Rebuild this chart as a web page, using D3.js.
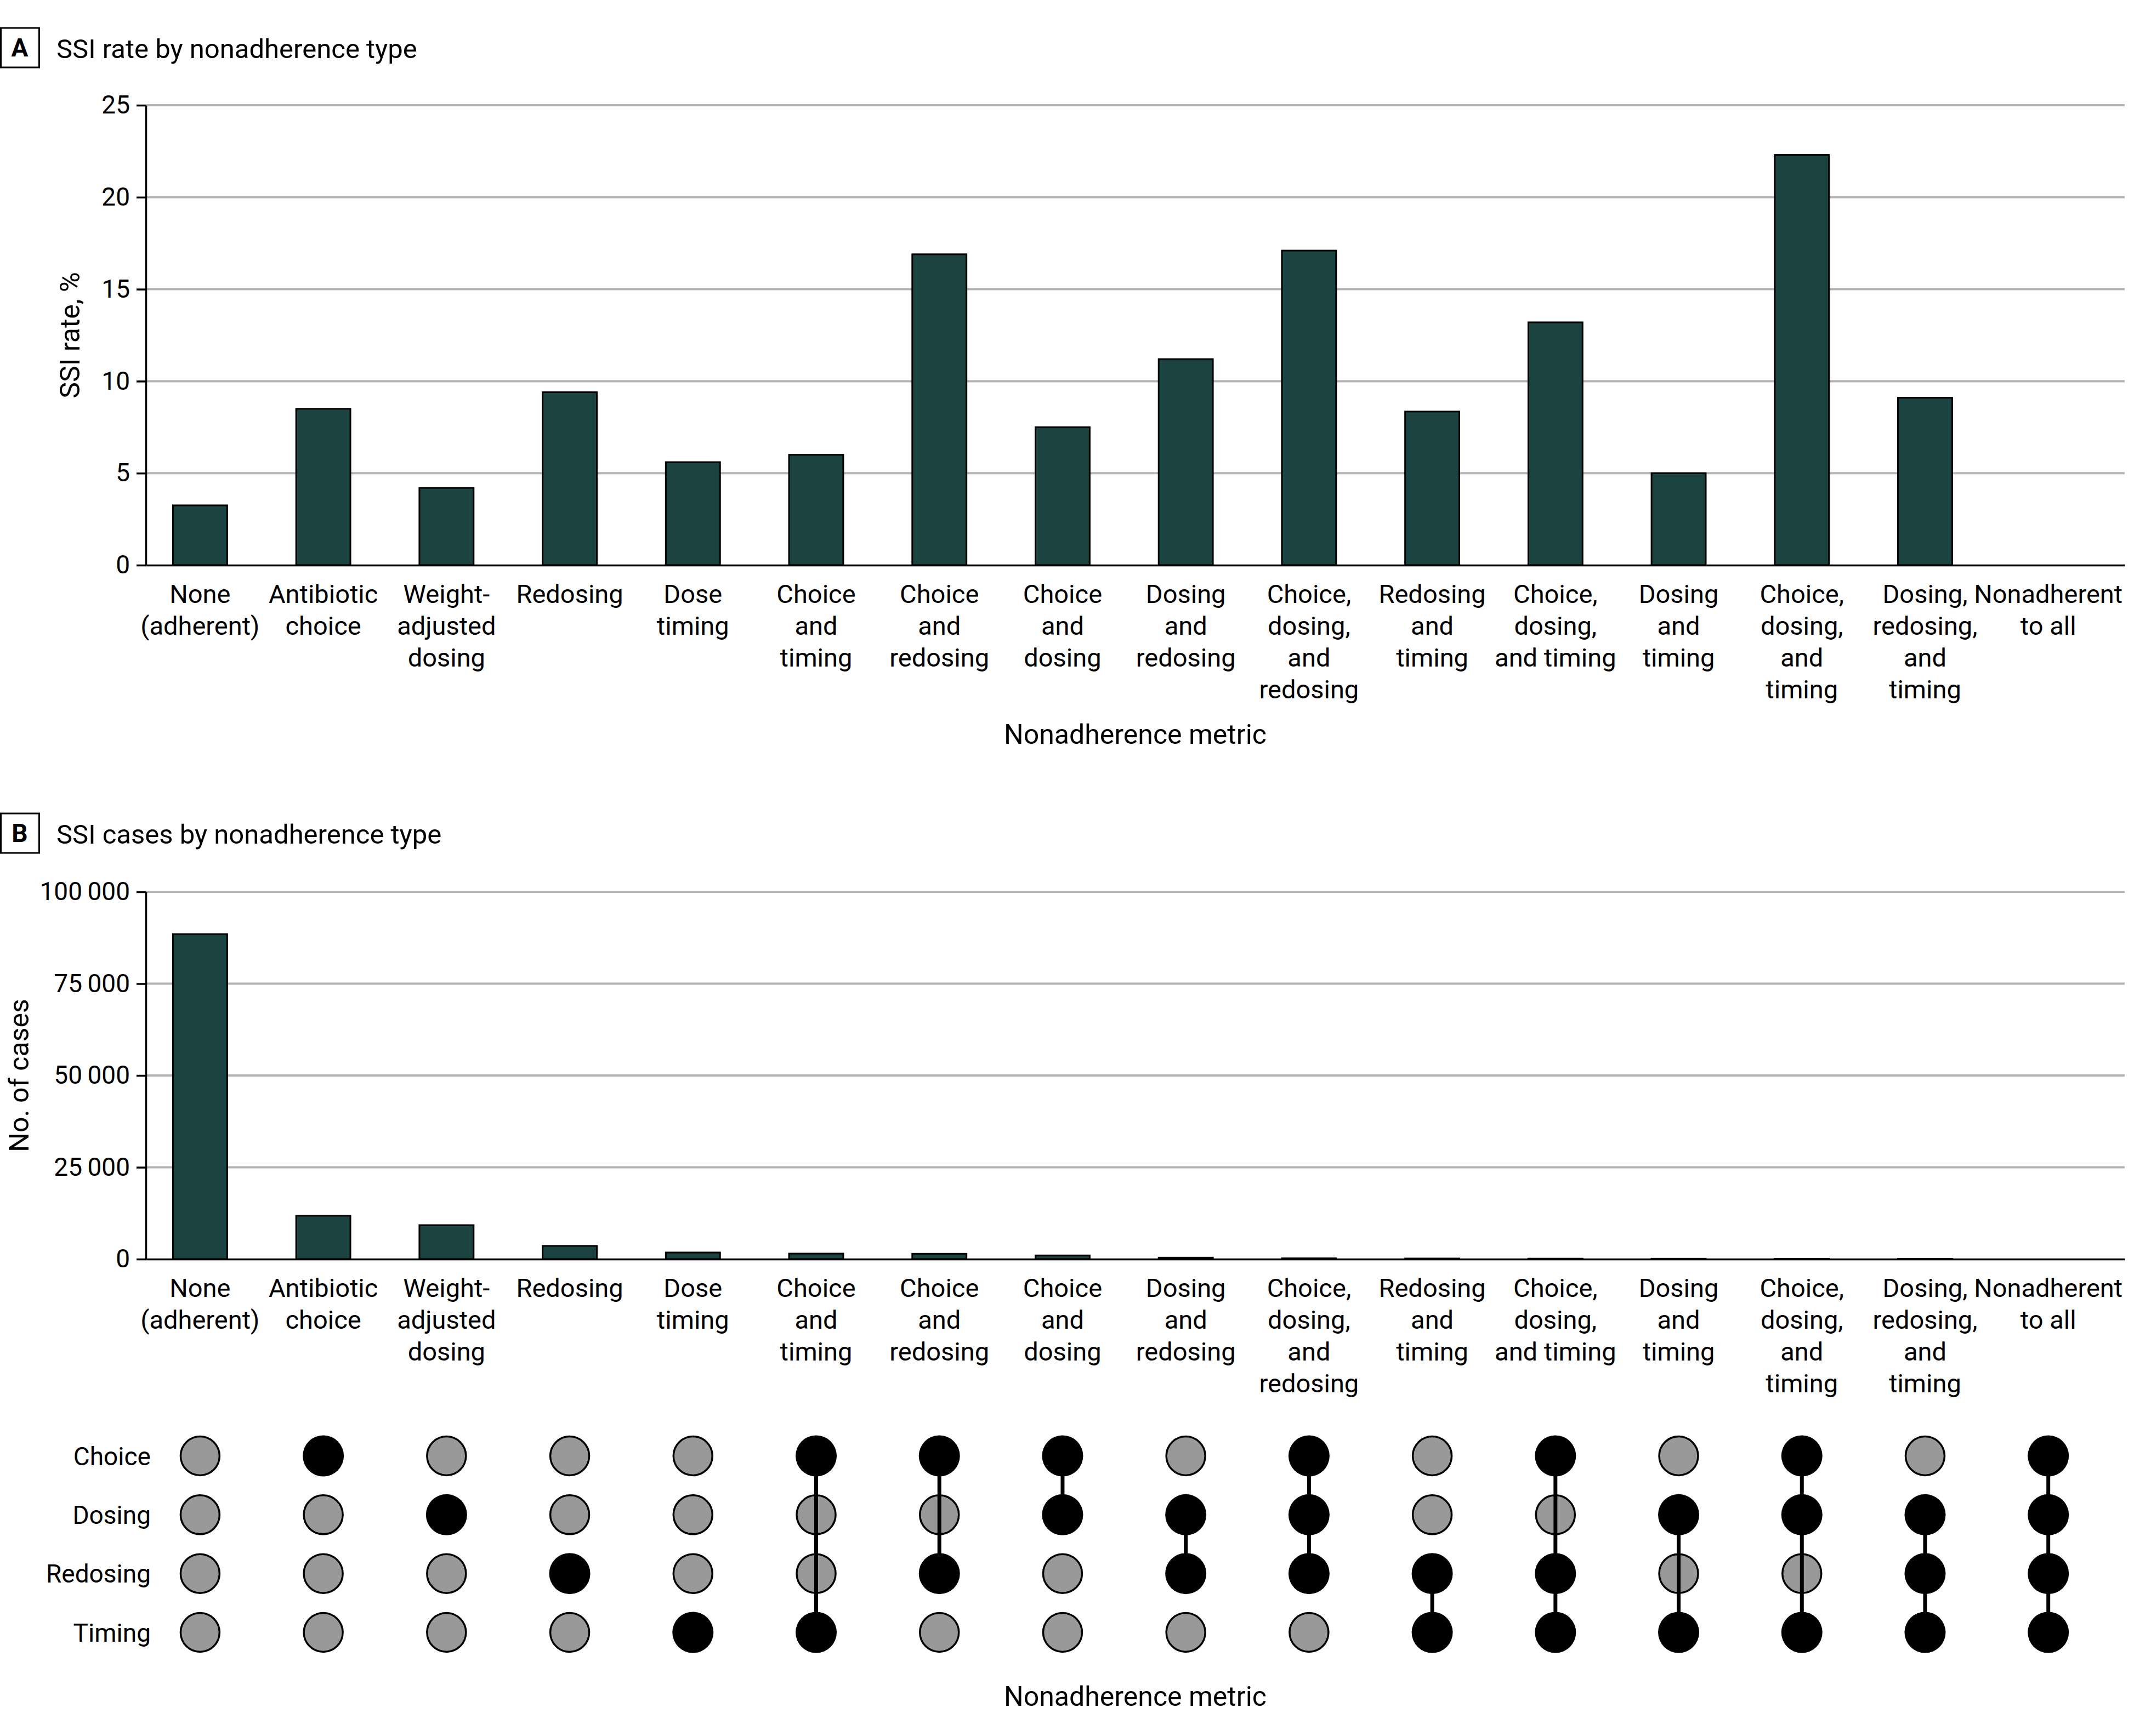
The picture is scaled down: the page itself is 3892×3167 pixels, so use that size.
<!DOCTYPE html>
<html>
<head>
<meta charset="utf-8">
<script src="https://cdn.jsdelivr.net/npm/d3@7"></script>
<style>
  body { margin: 0; background: #fff; }
  svg { display: block; font-family: Roboto, "Open Sans", sans-serif; }
</style>
</head>
<body>
<script>
// categories (label lines) in plotted order
var categories = [
  ["None", "(adherent)"],
  ["Antibiotic", "choice"],
  ["Weight-", "adjusted", "dosing"],
  ["Redosing"],
  ["Dose", "timing"],
  ["Choice", "and", "timing"],
  ["Choice", "and", "redosing"],
  ["Choice", "and", "dosing"],
  ["Dosing", "and", "redosing"],
  ["Choice,", "dosing,", "and", "redosing"],
  ["Redosing", "and", "timing"],
  ["Choice,", "dosing,", "and timing"],
  ["Dosing", "and", "timing"],
  ["Choice,", "dosing,", "and", "timing"],
  ["Dosing,", "redosing,", "and", "timing"],
  ["Nonadherent", "to all"]
];

// panel A: SSI rate, %
var ssiRate = [3.25, 8.5, 4.2, 9.4, 5.6, 6.0, 16.9, 7.5, 11.2, 17.1, 8.35, 13.2, 5.0, 22.3, 9.1, 0];
var rateTicks = [0, 5, 10, 15, 20, 25];

// panel B: no. of SSI cases
var ssiCases = [88500, 11800, 9250, 3600, 1800, 1500, 1450, 1000, 400, 220, 160, 120, 100, 80, 70, 0];
var caseTicks = [0, 25000, 50000, 75000, 100000];

// dot matrix: which metrics each category is nonadherent to
var metrics = ["Choice", "Dosing", "Redosing", "Timing"];
var choiceRow   = [0, 1, 0, 0, 0, 1, 1, 1, 0, 1, 0, 1, 0, 1, 0, 1];
var dosingRow   = [0, 0, 1, 0, 0, 0, 0, 1, 1, 1, 0, 0, 1, 1, 1, 1];
var redosingRow = [0, 0, 0, 1, 0, 0, 1, 0, 1, 1, 1, 1, 0, 0, 1, 1];
var timingRow   = [0, 0, 0, 0, 1, 1, 0, 0, 0, 0, 1, 1, 1, 1, 1, 1];
var matrixRows = [choiceRow, dosingRow, redosingRow, timingRow];

var W = 3892, H = 3167;
var left = 266, right = 3875;
var barFill = "#1b4341", gridColor = "#b3b3b3";

var svg = d3.select("body").append("svg")
  .attr("width", W)
  .attr("height", H);

var ids = categories.map(function(d, i) { return i; });

var x = d3.scaleBand()
  .domain(ids)
  .range([left, right])
  .paddingInner(0.56)
  .paddingOuter(0.31)
  .align(0.355);

var thinFmt = d3.formatLocale({decimal: ".", thousands: "\u2009", grouping: [3], currency: ["", ""]}).format(",");

function panelTitle(letter, title, top) {
  var g = svg.append("g").attr("transform", "translate(0," + top + ")");
  g.append("rect")
    .attr("x", 1.5).attr("y", 0)
    .attr("width", 70).attr("height", 72)
    .attr("fill", "none").attr("stroke", "#000").attr("stroke-width", 3);
  g.append("text")
    .attr("x", 36).attr("y", 52)
    .attr("text-anchor", "middle")
    .attr("font-size", 46).attr("font-weight", "bold")
    .text(letter);
  g.append("text")
    .attr("x", 103).attr("y", 55)
    .attr("font-size", 49)
    .text(title);
}

function barPanel(values, ticks, y0, y1, fmt, yTitle, yTitleX) {
  var y = d3.scaleLinear().domain([0, d3.max(ticks)]).range([y0, y1]);

  // gridlines
  svg.append("g").selectAll("line")
    .data(ticks.filter(function(t) { return t > 0; }))
    .enter().append("line")
    .attr("x1", left).attr("x2", right)
    .attr("y1", function(d) { return y(d); })
    .attr("y2", function(d) { return y(d); })
    .attr("stroke", gridColor).attr("stroke-width", 4);

  // bars
  svg.append("g").selectAll("rect")
    .data(values.map(function(v, i) { return {i: i, v: v}; }).filter(function(d) { return d.v > 0; }))
    .enter().append("rect")
    .attr("x", function(d) { return x(d.i); })
    .attr("width", x.bandwidth())
    .attr("y", function(d) { return y(d.v); })
    .attr("height", function(d) { return y(0) - y(d.v); })
    .attr("fill", barFill)
    .attr("stroke", "#000")
    .attr("stroke-width", 3);

  // y axis
  var ya = svg.append("g")
    .attr("transform", "translate(" + left + ",0)")
    .call(d3.axisLeft(y).tickValues(ticks).tickFormat(fmt).tickSize(17).tickSizeOuter(0).tickPadding(12));
  ya.select(".domain").attr("stroke-width", 3.5);
  ya.selectAll(".tick line").attr("stroke-width", 3.5);
  ya.selectAll(".tick text").attr("font-size", 46).attr("font-family", "Roboto").attr("fill", "#000");

  // x axis with wrapped labels
  var xa = svg.append("g")
    .attr("transform", "translate(0," + y0 + ")")
    .call(d3.axisBottom(x).tickSize(0).tickSizeOuter(0));
  xa.select(".domain").attr("stroke-width", 3.5);
  xa.selectAll(".tick text").each(function(d) {
    var t = d3.select(this).text(null)
      .attr("y", 69).attr("dy", null)
      .attr("font-size", 47).attr("font-family", "Roboto").attr("fill", "#000");
    categories[d].forEach(function(line, k) {
      t.append("tspan").attr("x", 0).attr("dy", k === 0 ? 0 : 58).text(line);
    });
  });

  // y title
  svg.append("text")
    .attr("transform", "translate(" + yTitleX + "," + ((y0 + y1) / 2) + ") rotate(-90)")
    .attr("text-anchor", "middle")
    .attr("font-size", 50)
    .text(yTitle);
}

// Panel A
panelTitle("A", "SSI rate by nonadherence type", 51);
barPanel(ssiRate, rateTicks, 1031, 192, d3.format("d"), "SSI rate, %", 145);
svg.append("text")
  .attr("x", (left + right) / 2).attr("y", 1357)
  .attr("text-anchor", "middle").attr("font-size", 50)
  .text("Nonadherence metric");

// Panel B
panelTitle("B", "SSI cases by nonadherence type", 1484);
barPanel(ssiCases, caseTicks, 2297, 1627, thinFmt, "No. of cases", 52);

// dot matrix
var ry = d3.scalePoint().domain(metrics).range([2656, 2978]);

svg.append("g").selectAll("text")
  .data(metrics)
  .enter().append("text")
  .attr("x", 275)
  .attr("y", function(d) { return ry(d); })
  .attr("dy", "0.36em")
  .attr("text-anchor", "end")
  .attr("font-size", 46)
  .text(function(d) { return d; });

var cells = [];
matrixRows.forEach(function(row, r) {
  row.forEach(function(on, c) { cells.push({c: c, m: metrics[r], on: on}); });
});

svg.append("g").selectAll("circle")
  .data(cells)
  .enter().append("circle")
  .attr("cx", function(d) { return x(d.c) + x.bandwidth() / 2; })
  .attr("cy", function(d) { return ry(d.m); })
  .attr("r", function(d) { return d.on ? 37.5 : 35.5; })
  .attr("fill", function(d) { return d.on ? "#000" : "#999999"; })
  .attr("stroke", "#000")
  .attr("stroke-width", function(d) { return d.on ? 0 : 3.5; });

// connectors between first and last flagged metric
var links = ids.map(function(c) {
  var on = metrics.filter(function(m, r) { return matrixRows[r][c]; });
  return {c: c, on: on};
}).filter(function(d) { return d.on.length > 1; });

svg.append("g").selectAll("line")
  .data(links)
  .enter().append("line")
  .attr("x1", function(d) { return x(d.c) + x.bandwidth() / 2; })
  .attr("x2", function(d) { return x(d.c) + x.bandwidth() / 2; })
  .attr("y1", function(d) { return ry(d.on[0]); })
  .attr("y2", function(d) { return ry(d.on[d.on.length - 1]); })
  .attr("stroke", "#000")
  .attr("stroke-width", 7);

svg.append("text")
  .attr("x", (left + right) / 2).attr("y", 3112)
  .attr("text-anchor", "middle").attr("font-size", 50)
  .text("Nonadherence metric");
</script>
</body>
</html>
